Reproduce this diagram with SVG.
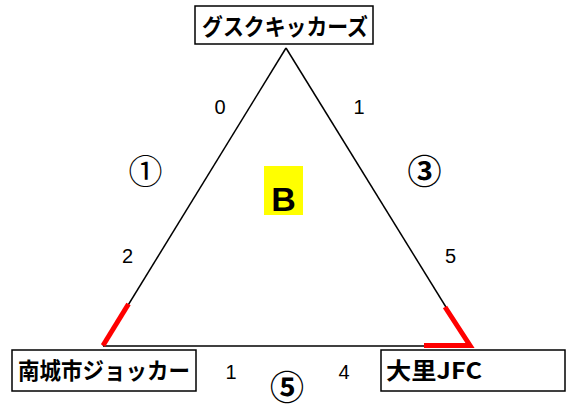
<svg xmlns="http://www.w3.org/2000/svg" width="570" height="410" viewBox="0 0 570 410">
<style>
.box{fill:#fff;stroke:#000;stroke-width:1.5}
.jp{font-family:"Noto Sans CJK JP","Liberation Sans",sans-serif;font-weight:bold;font-size:23px;fill:#000}
.num{font-family:"Liberation Sans",Arial,sans-serif;font-size:20px;fill:#000;text-anchor:middle}
.circ{font-family:"Noto Sans CJK JP",sans-serif;font-size:34px;fill:#000;text-anchor:middle}
.edge{stroke:#000;stroke-width:1.5;fill:none}
.red{stroke:#ff0000;stroke-width:5;fill:none;stroke-linecap:butt}
</style>
<rect width="570" height="410" fill="#fff"/>
<g id="connectors">
<line class="edge" x1="286" y1="48" x2="103" y2="346"/>
<line class="edge" x1="286" y1="48" x2="470" y2="346"/>
<line class="edge" x1="103" y1="346" x2="470" y2="346"/>
<polyline class="red" points="128.5,304 103,345.5"/>
<polyline class="red" points="445,307 470,345.5 424,345.5"/>
</g>
<g id="node-top">
<rect class="box" x="195" y="6" width="178" height="38"/>
<text class="jp" x="202" y="35" textLength="166" lengthAdjust="spacingAndGlyphs">グスクキッカーズ</text>
</g>
<g id="node-left">
<rect class="box" x="12" y="350" width="184" height="41"/>
<text class="jp" x="18" y="379" textLength="172" lengthAdjust="spacingAndGlyphs">南城市ジョッカー</text>
</g>
<g id="node-right">
<rect class="box" x="381" y="350" width="184" height="41"/>
<text class="jp" x="386" y="379" textLength="96" lengthAdjust="spacingAndGlyphs">大里JFC</text>
</g>
<g id="label-B">
<rect x="264" y="166" width="39" height="49" fill="#ffff00"/>
<text x="283.5" y="211" font-family="Liberation Sans,Arial,sans-serif" font-weight="bold" font-size="34" text-anchor="middle">B</text>
</g>
<g id="labels">
<text class="num" x="220" y="114">0</text>
<text class="num" x="359" y="114">1</text>
<text class="num" x="127.5" y="263">2</text>
<text class="num" x="450.5" y="263">5</text>
<text class="num" x="231" y="379">1</text>
<text class="num" x="344" y="379">4</text>
<text class="circ" x="145.5" y="184">①</text>
<text class="circ" x="424.5" y="184" font-weight="bold">③</text>
<text class="circ" x="287" y="400" font-size="31" font-weight="bold">⑤</text>
</g>
</svg>
